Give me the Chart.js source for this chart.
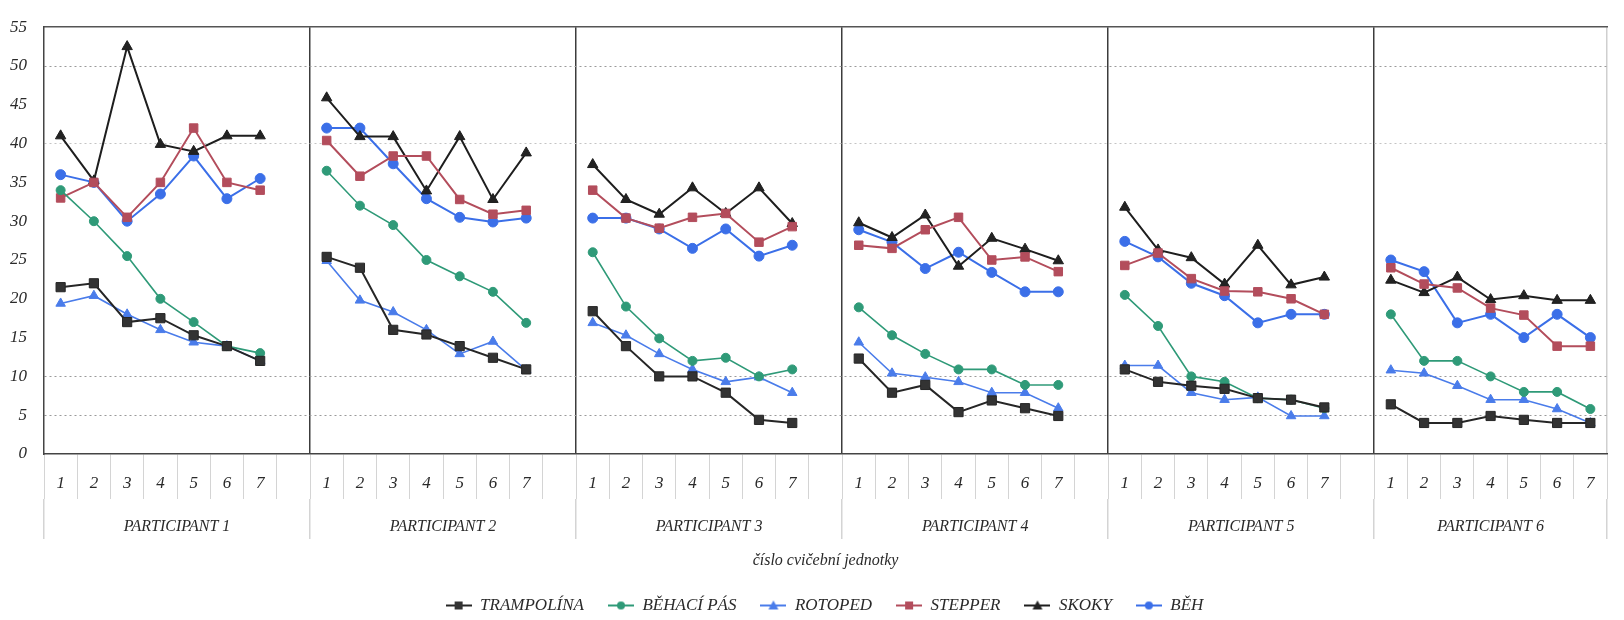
<!DOCTYPE html>
<html><head><meta charset="utf-8">
<script src="https://cdn.jsdelivr.net/npm/chart.js"></script>
<style>html,body{margin:0;padding:0;background:#fff;}</style>
</head><body>
<canvas id="c" width="1624" height="620"></canvas>
<script>
// ---- data ----
const sessions = ['1','2','3','4','5','6','7'];
const participants = ['PARTICIPANT 1','PARTICIPANT 2','PARTICIPANT 3','PARTICIPANT 4','PARTICIPANT 5','PARTICIPANT 6'];
const seriesNames = ['TRAMPOLÍNA','BĚHACÍ PÁS','ROTOPED','STEPPER','SKOKY','BĚH'];
const axisTitle = 'číslo cvičební jednotky';

const trampolina = [21.5,22,17,17.5,15.3,13.9,12, 25.4,24,16,15.4,13.9,12.4,10.9, 18.4,13.9,10,10,7.9,4.4,4, 12.3,7.9,8.9,5.4,6.9,5.9,4.9, 10.9,9.3,8.8,8.4,7.2,7,6, 6.4,4,4,4.9,4.4,4,4];
const behaciPas  = [34,30,25.5,20,17,13.9,13, 36.5,32,29.5,25,22.9,20.9,16.9, 26,19,14.9,12,12.4,10,10.9, 18.9,15.3,12.9,10.9,10.9,8.9,8.9, 20.5,16.5,10,9.3,7.2,7,5.9, 18,12,12,10,8,8,5.8];
const rotoped    = [19.4,20.4,18,16,14.4,13.9,12, 24.9,19.8,18.3,16,12.9,14.5,10.8, 16.9,15.3,12.9,10.9,9.3,9.9,7.9, 14.4,10.4,9.9,9.3,7.9,7.9,5.9, 11.4,11.4,7.9,7,7.3,4.9,4.9, 10.8,10.4,8.8,7,7,5.8,4];
const stepper    = [33,35,30.5,35,42,35,34, 40.4,35.8,38.4,38.4,32.8,30.9,31.4, 34,30.4,29.1,30.5,31,27.3,29.3, 26.9,26.5,28.9,30.5,25,25.4,23.5, 24.3,25.9,22.6,21,20.9,20,18, 24,21.9,21.4,18.8,17.9,13.9,13.9];
const skoky      = [41,35.2,52.5,39.9,39,41,41, 45.9,40.9,40.9,33.9,40.9,32.8,38.8, 37.3,32.8,30.9,34.3,31,34.3,29.7, 29.8,27.9,30.8,24.2,27.8,26.4,24.9, 31.8,26.3,25.3,21.9,26.9,21.8,22.8, 22.4,20.8,22.8,19.9,20.4,19.8,19.8];
const beh        = [36,35,30,33.5,38.4,32.9,35.5, 42,42,37.4,32.9,30.5,29.9,30.4, 30.4,30.4,29,26.5,29,25.5,26.9, 28.9,27.3,23.9,26,23.4,20.9,20.9, 27.4,25.4,22,20.4,16.9,18,18, 25,23.5,16.9,18,15,18,15];
const yTicks = [0,5,10,15,20,25,30,35,40,45,50,55];
const dottedGrid = [5,10,40,50];

// ---- build slots (7 sessions per participant + one empty slot between participants) ----
const catLabels = [];
const panelTicks = [];
let idx = 0;
panelTicks.push({value: -0.5, kind: 'edge'});
participants.forEach((p, pi) => {
  const n = sessions.length + (pi < participants.length - 1 ? 1 : 0);
  sessions.forEach(s => catLabels.push(s));
  if (pi < participants.length - 1) catLabels.push('');
  panelTicks.push({value: idx + (n - 1) / 2, kind: 'center', label: p});
  idx += n;
  panelTicks.push({value: idx - 0.5, kind: pi < participants.length - 1 ? 'sep' : 'end'});
});
const nSlots = idx;
function expand(arr) {
  const out = [];
  participants.forEach((p, pi) => {
    for (let j = 0; j < sessions.length; j++) out.push(arr[pi * sessions.length + j]);
    if (pi < participants.length - 1) out.push(null);
  });
  return out;
}

const FONT = "'Liberation Serif', 'Times New Roman', serif";
const TXT = '#2a2a2a';

const styles = [
  {color:'#262626', fill:'#333333', shape:'rect', r:6.5, w:2},
  {color:'#2f9a78', fill:'#2f9a78', shape:'circle', r:4.5, w:1.6},
  {color:'#4a7cea', fill:'#4a7cea', shape:'triangle', r:5.5, w:1.6},
  {color:'#b34d5c', fill:'#b34d5c', shape:'rect', r:6, w:2},
  {color:'#1e1e1e', fill:'#222222', shape:'triangle', r:6, w:2},
  {color:'#3b6fe8', fill:'#3b6fe8', shape:'circle', r:5, w:2}
];
const seriesData = [trampolina, behaciPas, rotoped, stepper, skoky, beh];

const LW = 26;
function legendImg(st) {
  const c = document.createElement('canvas');
  c.width = LW; c.height = 14;
  const g = c.getContext('2d');
  const m = LW / 2;
  g.strokeStyle = st.color; g.lineWidth = 2;
  g.beginPath(); g.moveTo(0, 7); g.lineTo(LW, 7); g.stroke();
  g.fillStyle = st.fill;
  g.beginPath();
  if (st.shape === 'rect') { g.rect(m - 4, 7 - 4, 8, 8); }
  else if (st.shape === 'circle') { g.arc(m, 7, 4, 0, Math.PI * 2); }
  else { g.moveTo(m, 2); g.lineTo(m + 5, 11); g.lineTo(m - 5, 11); g.closePath(); }
  g.fill();
  return c;
}
const legendImgs = styles.map(legendImg);

const datasets = seriesNames.map((name, i) => ({
  label: name,
  data: expand(seriesData[i]),
  borderColor: styles[i].color,
  backgroundColor: styles[i].fill,
  pointBackgroundColor: styles[i].fill,
  pointBorderColor: styles[i].color,
  pointStyle: styles[i].shape,
  pointRadius: styles[i].r,
  pointHoverRadius: styles[i].r,
  pointBorderWidth: 1,
  borderWidth: styles[i].w,
  tension: 0,
  spanGaps: false,
  xAxisID: 'x',
  yAxisID: 'y'
}));

// shifts the legend block a little to the right, as in the original
const legendShift = {
  id: 'legendShift',
  afterLayout(chart) { if (chart.legend) chart.legend.left += 42; }
};

new Chart(document.getElementById('c'), {
  type: 'line',
  data: { labels: catLabels, datasets },
  plugins: [legendShift],
  options: {
    responsive: false,
    animation: false,
    layout: { padding: { left: 0, right: 17, top: 24, bottom: -4 } },
    plugins: {
      tooltip: { enabled: false },
      legend: {
        position: 'bottom',
        labels: {
          usePointStyle: true,
          pointStyleWidth: LW,
          padding: 24,
          color: TXT,
          font: { family: FONT, style: 'italic', size: 17 },
          generateLabels: (chart) => chart.data.datasets.map((ds, i) => ({
            text: ds.label, pointStyle: legendImgs[i], fillStyle: styles[i].fill,
            strokeStyle: styles[i].color, lineWidth: 0, hidden: false, datasetIndex: i, fontColor: TXT
          }))
        }
      }
    },
    scales: {
      top: {
        type: 'category', position: 'top', labels: catLabels, offset: true,
        ticks: { display: false }, grid: { display: false, drawTicks: false },
        border: { display: true, color: '#555', width: 1.5 },
        afterFit: s => { s.height = 0; }
      },
      x: {
        type: 'category', position: 'bottom', offset: true,
        grid: { offset: true, drawOnChartArea: false, color: '#d4d4d4', tickColor: '#d4d4d4', tickLength: 45, lineWidth: 1 },
        border: { display: true, color: '#444', width: 1.5 },
        ticks: { autoSkip: false, maxRotation: 0, padding: -26, color: TXT, font: { family: FONT, style: 'italic', size: 17 } },
        afterFit: s => { s.height = 45; }
      },
      x2: {
        type: 'linear', position: 'bottom', min: -0.5, max: nSlots - 0.5,
        afterBuildTicks: s => { s.ticks = panelTicks.map(t => ({ value: t.value })); },
        ticks: {
          autoSkip: false, maxRotation: 0, padding: -22, color: TXT,
          font: { family: FONT, style: 'italic', size: 16 },
          callback: (v) => { const t = panelTicks.find(p => Math.abs(p.value - v) < 1e-6); return t && t.kind === 'center' ? t.label : ''; }
        },
        grid: {
          drawOnChartArea: true, tickLength: 40, lineWidth: 1.5,
          color: (ctx) => { const t = ctx.tick && panelTicks.find(p => Math.abs(p.value - ctx.tick.value) < 1e-6); if (!t) return 'rgba(0,0,0,0)'; if (t.kind === 'sep') return '#3c3c3c'; if (t.kind === 'end') return '#cfcfcf'; return 'rgba(0,0,0,0)'; },
          tickColor: (ctx) => { const t = ctx.tick && panelTicks.find(p => Math.abs(p.value - ctx.tick.value) < 1e-6); return t && t.kind !== 'center' ? '#d4d4d4' : 'rgba(0,0,0,0)'; }
        },
        border: { display: false },
        title: { display: true, text: axisTitle, color: TXT, font: { family: FONT, style: 'italic', size: 16 }, padding: { top: 0, bottom: 3 } },
        afterFit: s => { s.height = 74; }
      },
      y: {
        min: 0, max: 55,
        afterBuildTicks: s => { s.ticks = yTicks.map(v => ({ value: v })); },
        ticks: { padding: 17, color: TXT, font: { family: FONT, style: 'italic', size: 17 } },
        grid: { drawTicks: false, lineWidth: 1, color: (ctx) => ctx.tick && dottedGrid.includes(ctx.tick.value) ? (ctx.tick.value === 40 ? '#c4c4c4' : '#9a9a9a') : 'rgba(0,0,0,0)' },
        border: { display: true, color: '#444', width: 1.5, dash: [2, 3] },
        afterFit: s => { s.width = 44; }
      }
    }
  }
});
</script>
</body></html>
